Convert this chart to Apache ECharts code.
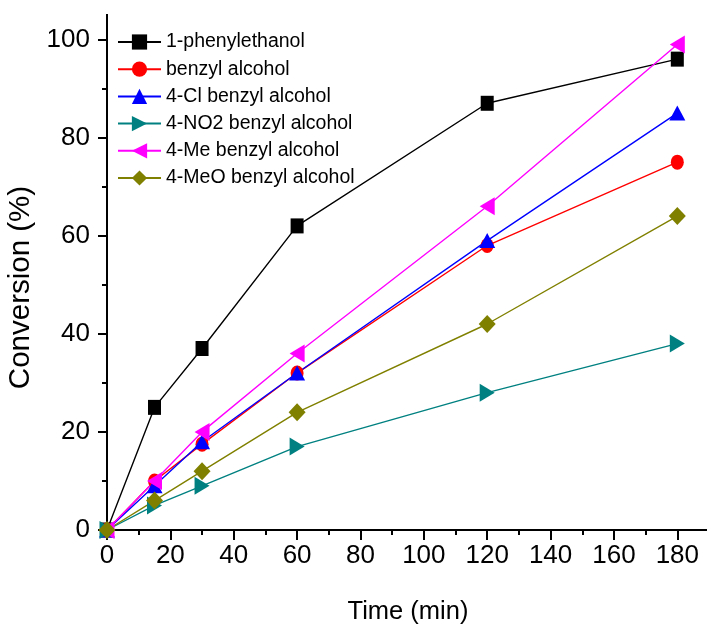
<!DOCTYPE html>
<html>
<head>
<meta charset="utf-8">
<script src="https://cdn.jsdelivr.net/npm/echarts@6/dist/echarts.min.js"></script>
<style>
  html, body { margin: 0; padding: 0; background: #fff; }
  #chart { width: 707px; height: 625px; }
</style>
</head>
<body>
<div id="chart"></div>
<script>
// Reaction time (min) for each sample
const times = [0, 15, 30, 60, 120, 180];

// Conversion (%) per substrate
const phenylethanol = [0, 25, 37, 62, 87, 96];
const benzylAlcohol = [0, 10, 17.5, 32, 58, 75];
const clBenzyl = [0, 9, 18, 32, 59, 85];
const no2Benzyl = [0, 5, 9, 17, 28, 38];
const meBenzyl = [0, 10, 20, 36, 66, 99];
const meoBenzyl = [0, 6, 12, 24, 42, 64];

// Axis ticks
const xMajor = [0, 20, 40, 60, 80, 100, 120, 140, 160, 180];
const xMinor = [10, 30, 50, 70, 90, 110, 130, 150, 170];
const yMajor = [0, 20, 40, 60, 80, 100];
const yMinor = [10, 30, 50, 70, 90];

const X_MAX = 190, Y_MAX = 105;
const textFont = 'Liberation Sans, Arial, sans-serif';

function pairs(ys) { return times.map((t, i) => [t, ys[i]]); }

// One axis of the frame: line plus a set of ticks, no labels by default
function frameAxis(position, ticks, len, inside, extra) {
  return Object.assign({
    type: 'value', position: position, min: 0,
    max: (position === 'top' || position === 'bottom') ? X_MAX : Y_MAX,
    interval: 10,
    axisLine: { show: true, lineStyle: { color: '#000', width: 2 } },
    axisTick: { show: true, inside: inside, length: len, customValues: ticks,
                lineStyle: { color: '#000', width: 2 } },
    axisLabel: { show: false },
    splitLine: { show: false }
  }, extra || {});
}

const seriesDefs = [
  { name: '1-phenylethanol', data: phenylethanol, color: '#000000', symbol: 'rect', size: [13, 15], rotate: 0 },
  { name: 'benzyl alcohol', data: benzylAlcohol, color: '#ff0000', symbol: 'circle', size: [13, 15], rotate: 0 },
  { name: '4-Cl benzyl alcohol', data: clBenzyl, color: '#0000ff', symbol: 'triangle', size: [16, 15], rotate: 0 },
  { name: '4-NO2 benzyl alcohol', data: no2Benzyl, color: '#008080', symbol: 'triangle', size: [18, 15], rotate: -90 },
  { name: '4-Me benzyl alcohol', data: meBenzyl, color: '#ff00ff', symbol: 'triangle', size: [18, 15], rotate: 90 },
  { name: '4-MeO benzyl alcohol', data: meoBenzyl, color: '#808000', symbol: 'diamond', size: [17, 18], rotate: 0 }
];

const chart = echarts.init(document.getElementById('chart'), null, { renderer: 'canvas' });

chart.setOption({
  animation: false,
  backgroundColor: '#ffffff',
  grid: { left: 107, right: -2, top: 15, bottom: 95, containLabel: false, outerBoundsMode: 'none' },
  legend: {
    orient: 'vertical', left: 117, top: 32, padding: 0,
    itemWidth: 43, itemHeight: 19, itemGap: 7.2,
    textStyle: { fontFamily: textFont, fontSize: 19.5, color: '#000' },
    data: seriesDefs.map(s => ({ name: s.name, symbolRotate: s.rotate }))
  },
  xAxis: [
    frameAxis('bottom', xMajor, 9, false, {
      axisLabel: { show: true, customValues: xMajor, fontFamily: textFont, fontSize: 26,
                   color: '#000', margin: 13 },
      name: 'Time (min)', nameLocation: 'middle', nameGap: 69,
      nameTextStyle: { fontFamily: textFont, fontSize: 25.5, color: '#000' }
    }),
    frameAxis('bottom', xMinor, 5, false),
    frameAxis('top', xMajor, 10, true),
    frameAxis('top', xMinor, 5, true)
  ],
  yAxis: [
    frameAxis('left', yMajor, 9, false, {
      axisLabel: { show: true, customValues: yMajor, fontFamily: textFont, fontSize: 26,
                   color: '#000', margin: 17 },
      name: 'Conversion (%)', nameLocation: 'middle', nameGap: 67,
      nameTextStyle: { fontFamily: textFont, fontSize: 29.5, color: '#000', padding: [0, 30, 0, 0] }
    }),
    frameAxis('left', yMinor, 5, false),
    frameAxis('right', yMajor, 9, true),
    frameAxis('right', yMinor, 4, true)
  ],
  series: seriesDefs.map(s => ({
    name: s.name, type: 'line', xAxisIndex: 0, yAxisIndex: 0,
    data: pairs(s.data),
    symbol: s.symbol, symbolSize: s.size, symbolRotate: s.rotate,
    lineStyle: { color: s.color, width: 1.4 },
    itemStyle: { color: s.color },
    emphasis: { disabled: true }
  }))
});
</script>
</body>
</html>
